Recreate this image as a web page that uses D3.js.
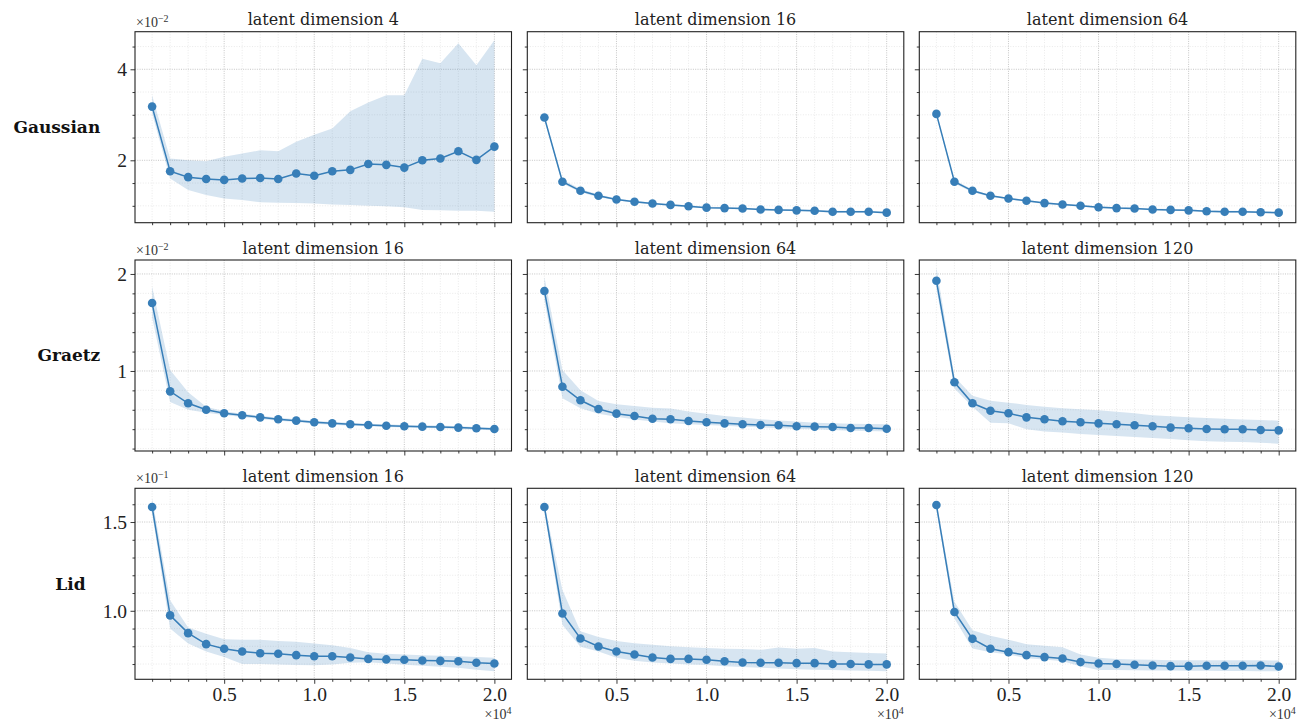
<!DOCTYPE html>
<html>
<head>
<meta charset="utf-8">
<script src="https://cdn.jsdelivr.net/npm/d3@7"></script>
<style>
  body { margin: 0; background: #fff; }
  svg { display: block; }
</style>
</head>
<body>
<div id="chart"></div>
<script>
// training set sizes (x axis)
const sampleSizes = [1000, 2000, 3000, 4000, 5000, 6000, 7000, 8000, 9000, 10000,
  11000, 12000, 13000, 14000, 15000, 16000, 17000, 18000, 19000, 20000];

const rowNames = ['Gaussian', 'Graetz', 'Lid'];
const latentDims = [[4, 16, 64], [16, 64, 120], [16, 64, 120]];

// y limits (in units of the offset) and ticks per row
const rowLimits = [[0.629, 4.826], [0.175, 2.144], [0.614, 1.69]];
const rowMajorTicks = [[2, 4], [1, 2], [1.0, 1.5]];
const rowTickLabels = [['2', '4'], ['1', '2'], ['1.0', '1.5']];
const rowMinorStep = [0.5, 0.2, 0.1];
const rowOffsetExp = ['\u22122', '\u22122', '\u22121'];

const xMajorTicks = [5000, 10000, 15000, 20000];
const xTickLabels = ['0.5', '1.0', '1.5', '2.0'];

// Gaussian (x 1e-2)
const gaussMean4 = [3.18, 1.76, 1.63, 1.59, 1.57, 1.60, 1.61, 1.59, 1.71, 1.66, 1.76, 1.79, 1.92, 1.90, 1.84, 2.00, 2.04, 2.20, 2.01, 2.30];
const gaussHigh4 = [3.43, 2.04, 2.00, 1.98, 2.08, 2.15, 2.22, 2.20, 2.41, 2.56, 2.70, 3.08, 3.27, 3.43, 3.43, 4.23, 4.13, 4.57, 4.09, 4.64];
const gaussLow4 = [3.03, 1.60, 1.35, 1.24, 1.16, 1.13, 1.08, 1.07, 1.06, 1.05, 1.03, 1.02, 1.00, 0.99, 0.97, 0.91, 0.90, 0.89, 0.89, 0.87];
const gaussMean16 = [2.94, 1.53, 1.33, 1.22, 1.14, 1.09, 1.05, 1.02, 0.99, 0.96, 0.95, 0.94, 0.92, 0.91, 0.90, 0.89, 0.87, 0.87, 0.87, 0.85];
const gaussHigh16 = [2.97, 1.58, 1.37, 1.25, 1.16, 1.11, 1.07, 1.04, 1.01, 0.98, 0.97, 0.96, 0.94, 0.93, 0.92, 0.91, 0.89, 0.89, 0.89, 0.87];
const gaussLow16 = [2.91, 1.49, 1.30, 1.19, 1.12, 1.07, 1.03, 1.00, 0.97, 0.94, 0.93, 0.92, 0.90, 0.89, 0.88, 0.87, 0.85, 0.85, 0.85, 0.83];
const gaussMean64 = [3.02, 1.53, 1.33, 1.22, 1.16, 1.11, 1.06, 1.03, 1.00, 0.97, 0.95, 0.94, 0.92, 0.91, 0.90, 0.88, 0.87, 0.87, 0.86, 0.85];
const gaussHigh64 = [3.05, 1.57, 1.36, 1.24, 1.18, 1.13, 1.08, 1.05, 1.02, 0.99, 0.97, 0.96, 0.94, 0.93, 0.92, 0.90, 0.89, 0.89, 0.88, 0.87];
const gaussLow64 = [2.99, 1.49, 1.30, 1.20, 1.14, 1.09, 1.04, 1.01, 0.98, 0.95, 0.93, 0.92, 0.90, 0.89, 0.88, 0.86, 0.85, 0.85, 0.84, 0.83];

// Graetz (x 1e-2)
const graetzMean16 = [1.70, 0.79, 0.667, 0.601, 0.564, 0.543, 0.522, 0.502, 0.488, 0.471, 0.46, 0.45, 0.443, 0.436, 0.43, 0.426, 0.423, 0.416, 0.409, 0.402];
const graetzHigh16 = [1.87, 1.01, 0.78, 0.63, 0.585, 0.56, 0.538, 0.518, 0.503, 0.486, 0.475, 0.465, 0.457, 0.45, 0.444, 0.44, 0.437, 0.43, 0.423, 0.416];
const graetzLow16 = [1.55, 0.68, 0.60, 0.57, 0.545, 0.526, 0.506, 0.487, 0.473, 0.457, 0.446, 0.436, 0.429, 0.422, 0.416, 0.412, 0.409, 0.402, 0.395, 0.388];
const graetzMean64 = [1.825, 0.838, 0.698, 0.608, 0.56, 0.536, 0.508, 0.502, 0.485, 0.471, 0.46, 0.45, 0.443, 0.44, 0.43, 0.426, 0.423, 0.412, 0.412, 0.405];
const graetzHigh64 = [1.97, 1.01, 0.80, 0.69, 0.656, 0.639, 0.622, 0.612, 0.581, 0.56, 0.536, 0.52, 0.502, 0.49, 0.478, 0.467, 0.46, 0.457, 0.453, 0.45];
const graetzLow64 = [1.73, 0.718, 0.615, 0.56, 0.529, 0.50, 0.48, 0.46, 0.45, 0.443, 0.436, 0.426, 0.419, 0.412, 0.402, 0.399, 0.392, 0.385, 0.381, 0.375];
const graetzMean120 = [1.93, 0.883, 0.667, 0.59, 0.564, 0.522, 0.502, 0.481, 0.471, 0.46, 0.45, 0.44, 0.43, 0.416, 0.409, 0.402, 0.399, 0.399, 0.392, 0.388];
const graetzHigh120 = [2.07, 0.94, 0.745, 0.694, 0.673, 0.65, 0.632, 0.615, 0.605, 0.595, 0.58, 0.565, 0.543, 0.533, 0.522, 0.515, 0.508, 0.50, 0.495, 0.488];
const graetzLow120 = [1.85, 0.82, 0.632, 0.467, 0.46, 0.399, 0.375, 0.365, 0.35, 0.34, 0.33, 0.32, 0.31, 0.30, 0.285, 0.275, 0.27, 0.268, 0.26, 0.25];

// Lid (x 1e-1)
const lidMean16 = [1.585, 0.974, 0.874, 0.812, 0.786, 0.771, 0.761, 0.758, 0.75, 0.744, 0.744, 0.737, 0.729, 0.726, 0.724, 0.72, 0.718, 0.716, 0.707, 0.703];
const lidHigh16 = [1.634, 1.06, 0.906, 0.87, 0.84, 0.837, 0.837, 0.83, 0.825, 0.815, 0.806, 0.79, 0.766, 0.758, 0.754, 0.75, 0.746, 0.744, 0.739, 0.735];
const lidLow16 = [1.55, 0.90, 0.816, 0.77, 0.739, 0.70, 0.70, 0.698, 0.695, 0.693, 0.698, 0.707, 0.71, 0.703, 0.696, 0.69, 0.684, 0.679, 0.668, 0.66];
const lidMean64 = [1.585, 0.985, 0.844, 0.799, 0.771, 0.754, 0.737, 0.729, 0.729, 0.724, 0.716, 0.709, 0.707, 0.707, 0.705, 0.705, 0.70, 0.70, 0.698, 0.698];
const lidHigh64 = [1.60, 1.117, 0.885, 0.853, 0.83, 0.817, 0.808, 0.80, 0.795, 0.79, 0.786, 0.784, 0.78, 0.793, 0.786, 0.79, 0.771, 0.766, 0.762, 0.759];
const lidLow64 = [1.56, 0.92, 0.797, 0.77, 0.736, 0.718, 0.709, 0.703, 0.698, 0.694, 0.688, 0.683, 0.679, 0.675, 0.671, 0.668, 0.666, 0.664, 0.662, 0.66];
const lidMean120 = [1.596, 0.993, 0.842, 0.786, 0.767, 0.75, 0.739, 0.731, 0.711, 0.703, 0.70, 0.696, 0.692, 0.688, 0.688, 0.69, 0.69, 0.69, 0.692, 0.686];
const lidHigh120 = [1.61, 1.051, 0.891, 0.86, 0.837, 0.812, 0.803, 0.795, 0.754, 0.735, 0.728, 0.726, 0.724, 0.722, 0.722, 0.722, 0.722, 0.722, 0.721, 0.72];
const lidLow120 = [1.57, 0.957, 0.788, 0.767, 0.754, 0.733, 0.726, 0.716, 0.688, 0.667, 0.667, 0.665, 0.664, 0.663, 0.662, 0.662, 0.661, 0.661, 0.66, 0.66];

const panelSeries = [
  [[gaussMean4, gaussLow4, gaussHigh4], [gaussMean16, gaussLow16, gaussHigh16], [gaussMean64, gaussLow64, gaussHigh64]],
  [[graetzMean16, graetzLow16, graetzHigh16], [graetzMean64, graetzLow64, graetzHigh64], [graetzMean120, graetzLow120, graetzHigh120]],
  [[lidMean16, lidLow16, lidHigh16], [lidMean64, lidLow64, lidHigh64], [lidMean120, lidLow120, lidHigh120]]
];

const width = 1309;
const height = 724;
const colLeft = [135, 527.3, 919.3];
const rowTop = [31.7, 260, 488.3];
const panelW = 376.5;
const panelH = 191;

const lineColor = '#377eb8';
const bandColor = '#377eb8';
const textFont = '"DejaVu Serif", serif';
const tickFont = '"Liberation Serif", "Times New Roman", serif';

const svg = d3.select('#chart')
  .append('svg')
  .attr('width', width)
  .attr('height', height);

function steps(lo, hi, step) {
  const out = [];
  const start = Math.ceil(lo / step - 1e-9);
  for (let k = start; k * step <= hi + 1e-9; k++) {
    out.push(+(k * step).toFixed(6));
  }
  return out;
}

const xMinor = steps(1000, 20000, 1000).filter(v => !xMajorTicks.includes(v));

rowNames.forEach((rowName, r) => {
  const yMinor = steps(rowLimits[r][0], rowLimits[r][1], rowMinorStep[r])
    .filter(v => !rowMajorTicks[r].some(t => Math.abs(t - v) < 1e-6));

  latentDims[r].forEach((dim, c) => {
    const left = colLeft[c];
    const top = rowTop[r];
    const [mean, low, high] = panelSeries[r][c];

    const x = d3.scaleLinear().domain([50, 20950]).range([left, left + panelW]);
    const y = d3.scaleLinear().domain(rowLimits[r]).range([top + panelH, top]);

    const g = svg.append('g').attr('class', `panel r${r} c${c}`);

    const clipId = `clip-${r}-${c}`;
    g.append('clipPath').attr('id', clipId)
      .append('rect')
      .attr('x', left).attr('y', top)
      .attr('width', panelW).attr('height', panelH);

    // minor grid
    const grid = g.append('g').attr('class', 'grid');
    grid.selectAll('.vminor').data(xMinor).enter().append('line')
      .attr('x1', d => x(d)).attr('x2', d => x(d))
      .attr('y1', top).attr('y2', top + panelH)
      .attr('stroke', '#e4e4e4').attr('stroke-width', 0.8)
      .attr('stroke-dasharray', '1,1.6');
    grid.selectAll('.hminor').data(yMinor).enter().append('line')
      .attr('x1', left).attr('x2', left + panelW)
      .attr('y1', d => y(d)).attr('y2', d => y(d))
      .attr('stroke', '#e4e4e4').attr('stroke-width', 0.8)
      .attr('stroke-dasharray', '1,1.6');
    // major grid
    grid.selectAll('.vmajor').data(xMajorTicks).enter().append('line')
      .attr('x1', d => x(d)).attr('x2', d => x(d))
      .attr('y1', top).attr('y2', top + panelH)
      .attr('stroke', '#b8b8b8').attr('stroke-width', 0.8)
      .attr('stroke-dasharray', '1,1.3');
    grid.selectAll('.hmajor').data(rowMajorTicks[r]).enter().append('line')
      .attr('x1', left).attr('x2', left + panelW)
      .attr('y1', d => y(d)).attr('y2', d => y(d))
      .attr('stroke', '#b8b8b8').attr('stroke-width', 0.8)
      .attr('stroke-dasharray', '1,1.3');

    const pts = sampleSizes.map((s, i) => ({ s, m: mean[i], lo: low[i], hi: high[i] }));

    const area = d3.area()
      .x(d => x(d.s))
      .y0(d => y(d.lo))
      .y1(d => y(d.hi));

    const line = d3.line()
      .x(d => x(d.s))
      .y(d => y(d.m));

    const plot = g.append('g').attr('clip-path', `url(#${clipId})`);
    plot.append('path')
      .datum(pts)
      .attr('d', area)
      .attr('fill', bandColor)
      .attr('fill-opacity', 0.2);

    plot.append('path')
      .datum(pts)
      .attr('d', line)
      .attr('fill', 'none')
      .attr('stroke', lineColor)
      .attr('stroke-width', 1.5);

    plot.selectAll('circle')
      .data(pts)
      .enter()
      .append('circle')
      .attr('cx', d => x(d.s))
      .attr('cy', d => y(d.m))
      .attr('r', 4.3)
      .attr('fill', lineColor);

    // axes ticks
    const yMajorAxis = d3.axisLeft(y)
      .tickValues(rowMajorTicks[r])
      .tickSize(4.5)
      .tickPadding(3.5)
      .tickFormat((d, i) => (c === 0 ? rowTickLabels[r][i] : ''));
    const yMinorAxis = d3.axisLeft(y).tickValues(yMinor).tickSize(2.5).tickFormat('');
    const xMajorAxis = d3.axisBottom(x)
      .tickValues(xMajorTicks)
      .tickSize(4.5)
      .tickPadding(3.5)
      .tickFormat((d, i) => (r === 2 ? xTickLabels[i] : ''));
    const xMinorAxis = d3.axisBottom(x).tickValues(xMinor).tickSize(2.5).tickFormat('');

    const axes = [
      g.append('g').attr('class', 'ytick').attr('transform', `translate(${left},0)`).call(yMajorAxis),
      g.append('g').attr('transform', `translate(${left},0)`).call(yMinorAxis),
      g.append('g').attr('class', 'xtick').attr('transform', `translate(0,${top + panelH})`).call(xMajorAxis),
      g.append('g').attr('transform', `translate(0,${top + panelH})`).call(xMinorAxis)
    ];
    axes.forEach(a => {
      a.attr('font-family', tickFont).attr('font-size', 19.5);
      a.select('.domain').remove();
      a.selectAll('.tick line').attr('stroke', '#222').attr('stroke-width', 0.9);
      a.selectAll('.tick text').attr('fill', '#222');
    });

    // frame
    g.append('rect')
      .attr('x', left).attr('y', top)
      .attr('width', panelW).attr('height', panelH)
      .attr('fill', 'none')
      .attr('stroke', '#222')
      .attr('stroke-width', 1.1);

    // title
    g.append('text')
      .attr('x', left + panelW / 2)
      .attr('y', top - 6.5)
      .attr('text-anchor', 'middle')
      .attr('fill', '#222')
      .attr('font-family', textFont)
      .attr('font-size', 16)
      .text(`latent dimension ${dim}`);

    // offset text for y
    if (c === 0) {
      const off = g.append('text')
        .attr('x', left + 1)
        .attr('y', top - 5)
        .attr('fill', '#333')
        .attr('font-family', tickFont)
        .attr('font-size', 14);
      off.append('tspan').text('\u00d710');
      off.append('tspan').attr('dy', -5).attr('font-size', 10).text(rowOffsetExp[r]);

      // row label, placed left of the tick labels (bbox is in the axis group's own coords)
      const tickBox = axes[0].node().getBBox();
      g.append('text')
        .attr('x', left + tickBox.x - 17)
        .attr('y', top + panelH / 2)
        .attr('dy', '0.35em')
        .attr('text-anchor', 'end')
        .attr('fill', '#111')
        .attr('font-family', textFont)
        .attr('font-weight', 'bold')
        .attr('font-size', 17)
        .text(rowName);
    }

    // offset text for x
    if (r === 2) {
      const off = g.append('text')
        .attr('x', left + panelW)
        .attr('y', 719)
        .attr('text-anchor', 'end')
        .attr('fill', '#333')
        .attr('font-family', tickFont)
        .attr('font-size', 14);
      off.append('tspan').text('\u00d710');
      off.append('tspan').attr('dy', -5).attr('font-size', 10).text('4');
    }
  });
});
</script>
</body>
</html>
